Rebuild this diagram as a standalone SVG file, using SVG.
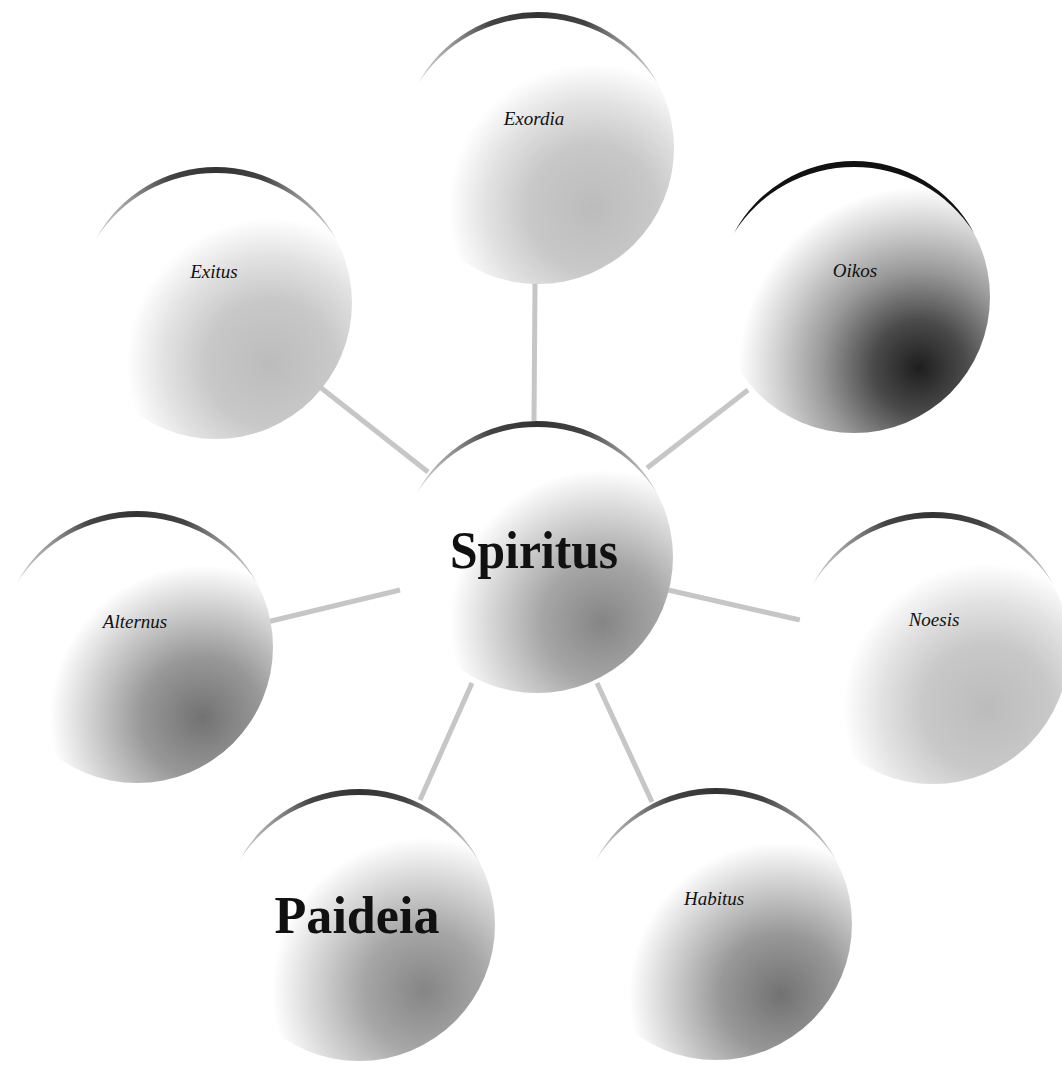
<svg xmlns="http://www.w3.org/2000/svg" xmlns:xlink="http://www.w3.org/1999/xlink" width="1062" height="1066" viewBox="0 0 1062 1066">
  <style>
    .conn { stroke: #c6c6c6; stroke-width: 5; fill: none; stroke-linecap: butt; }
    .lbl { font-family: "Liberation Serif", "Times New Roman", serif; font-style: italic; font-size: 19px; fill: #111; text-anchor: middle; }
    .big { font-family: "Liberation Serif", "Times New Roman", serif; font-weight: bold; font-size: 52px; fill: #111; text-anchor: middle; }
  </style>
  <defs>
    <radialGradient id="gLight" cx="0.7" cy="0.72" r="0.78">
      <stop offset="0" stop-color="#bcbcbc"/>
      <stop offset="0.3" stop-color="#c8c8c8"/>
      <stop offset="0.5" stop-color="#e2e2e2"/>
      <stop offset="0.68" stop-color="#ffffff"/>
    </radialGradient>
    <radialGradient id="gMid" cx="0.74" cy="0.74" r="0.8">
      <stop offset="0" stop-color="#858585"/>
      <stop offset="0.28" stop-color="#a6a6a6"/>
      <stop offset="0.52" stop-color="#d8d8d8"/>
      <stop offset="0.7" stop-color="#ffffff"/>
    </radialGradient>
    <radialGradient id="gMidDark" cx="0.74" cy="0.76" r="0.8">
      <stop offset="0" stop-color="#727272"/>
      <stop offset="0.28" stop-color="#989898"/>
      <stop offset="0.52" stop-color="#d2d2d2"/>
      <stop offset="0.7" stop-color="#ffffff"/>
    </radialGradient>
    <radialGradient id="gDark" cx="0.74" cy="0.76" r="0.85">
      <stop offset="0" stop-color="#1e1e1e"/>
      <stop offset="0.2" stop-color="#4a4a4a"/>
      <stop offset="0.42" stop-color="#999999"/>
      <stop offset="0.6" stop-color="#cdcdcd"/>
      <stop offset="0.78" stop-color="#ffffff"/>
    </radialGradient>
    <linearGradient id="arcG" x1="0" y1="0" x2="1" y2="0">
      <stop offset="0" stop-color="#666" stop-opacity="0.3"/>
      <stop offset="0.3" stop-color="#444"/>
      <stop offset="0.5" stop-color="#333"/>
      <stop offset="0.7" stop-color="#444"/>
      <stop offset="1" stop-color="#666" stop-opacity="0.3"/>
    </linearGradient>
    <path id="arc" d="M-120,-64 A136,136 0 0 1 120,-64 A142,142 0 0 0 -120,-64 Z"/>
  </defs>

  <g id="connectors">
    <line class="conn" x1="535" y1="283" x2="534" y2="421"/>
    <line class="conn" x1="320" y1="387" x2="428" y2="472"/>
    <line class="conn" x1="748" y1="390" x2="647" y2="468"/>
    <line class="conn" x1="267" y1="622" x2="400" y2="590"/>
    <line class="conn" x1="668" y1="590" x2="800" y2="620"/>
    <line class="conn" x1="472" y1="683" x2="420" y2="800"/>
    <line class="conn" x1="597" y1="683" x2="652" y2="802"/>
  </g>

  <g id="node-exordia" transform="translate(538,148)">
    <circle r="136" fill="url(#gLight)"/>
    <use xlink:href="#arc" fill="url(#arcG)"/>
    <text class="lbl" x="-4" y="-23">Exordia</text>
  </g>

  <g id="node-exitus" transform="translate(216,303)">
    <circle r="136" fill="url(#gLight)"/>
    <use xlink:href="#arc" fill="url(#arcG)"/>
    <text class="lbl" x="-2" y="-25">Exitus</text>
  </g>

  <g id="node-oikos" transform="translate(854,297)">
    <circle r="136" fill="url(#gDark)"/>
    <use xlink:href="#arc" fill="#111"/>
    <text class="lbl" x="1" y="-20">Oikos</text>
  </g>

  <g id="node-spiritus" transform="translate(537,557)">
    <circle r="136" fill="url(#gMid)"/>
    <use xlink:href="#arc" fill="url(#arcG)"/>
    <text class="big" x="-3" y="11" textLength="168" lengthAdjust="spacingAndGlyphs">Spiritus</text>
  </g>

  <g id="node-alternus" transform="translate(137,647)">
    <circle r="136" fill="url(#gMidDark)"/>
    <use xlink:href="#arc" fill="url(#arcG)"/>
    <text class="lbl" x="-2" y="-19">Alternus</text>
  </g>

  <g id="node-noesis" transform="translate(933,648)">
    <circle r="136" fill="url(#gLight)"/>
    <use xlink:href="#arc" fill="url(#arcG)"/>
    <text class="lbl" x="1" y="-22">Noesis</text>
  </g>

  <g id="node-paideia" transform="translate(359,925)">
    <circle r="136" fill="url(#gMid)"/>
    <use xlink:href="#arc" fill="url(#arcG)"/>
    <text class="big" x="-2" y="8" textLength="165" lengthAdjust="spacingAndGlyphs">Paideia</text>
  </g>

  <g id="node-habitus" transform="translate(716,924)">
    <circle r="136" fill="url(#gMidDark)"/>
    <use xlink:href="#arc" fill="url(#arcG)"/>
    <text class="lbl" x="-2" y="-19">Habitus</text>
  </g>
</svg>
